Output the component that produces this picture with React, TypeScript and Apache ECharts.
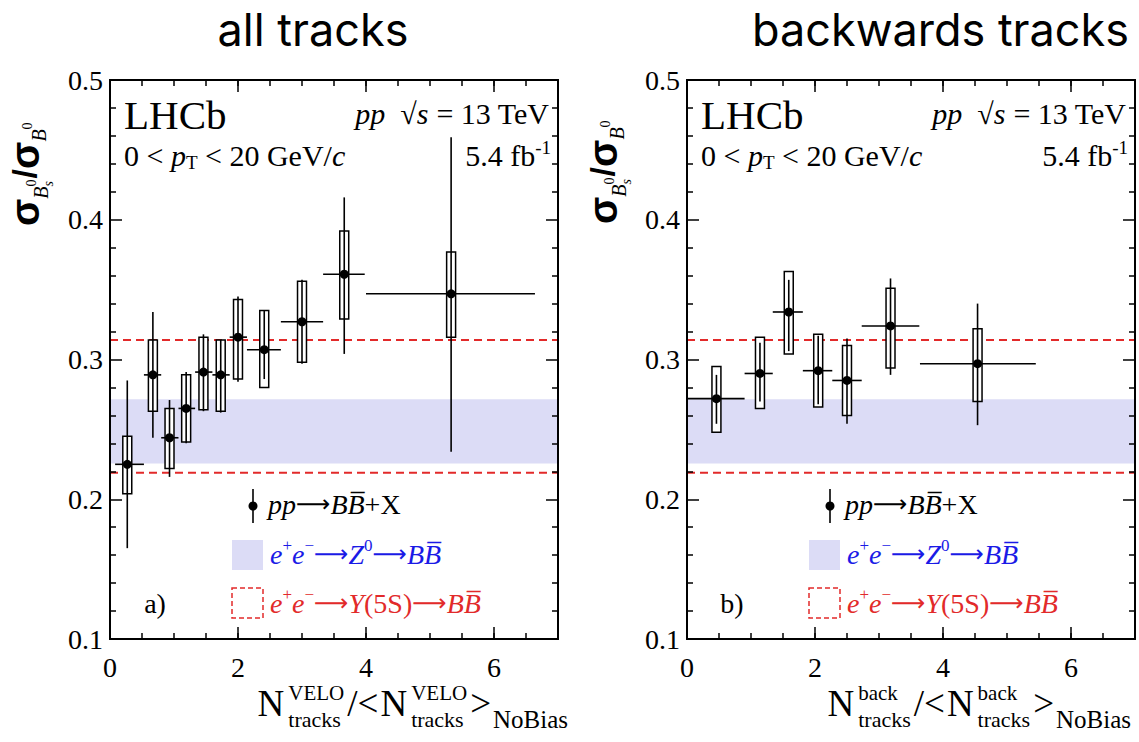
import React, { useEffect, useRef } from "react";
import * as echarts from "echarts";

const SERIF = "'Liberation Serif', 'Times New Roman', serif";
const SANS = "'Liberation Sans', Arial, sans-serif";
const TITLE_FONT = "Inter, 'Noto Sans', sans-serif";

// ---------- data ----------
const panelTitles = ["all tracks", "backwards tracks"];
const panelTags = ["a)", "b)"];

const leftX = [0.27, 0.67, 0.93, 1.19, 1.46, 1.73, 2.0, 2.41, 3.0, 3.66, 5.33];
const leftXLo = [0.08, 0.53, 0.8, 1.07, 1.33, 1.6, 1.87, 2.14, 2.67, 3.33, 4.0];
const leftXHi = [0.53, 0.8, 1.07, 1.33, 1.6, 1.87, 2.14, 2.67, 3.33, 3.98, 6.64];
const leftY = [0.225, 0.289, 0.244, 0.265, 0.291, 0.289, 0.316, 0.307, 0.327, 0.361, 0.347];
const leftStatLo = [0.165, 0.244, 0.216, 0.24, 0.263, 0.262, 0.284, 0.286, 0.297, 0.304, 0.234];
const leftStatHi = [0.285, 0.334, 0.271, 0.291, 0.318, 0.314, 0.345, 0.335, 0.357, 0.416, 0.459];
const leftSysLo = [0.204, 0.263, 0.222, 0.241, 0.264, 0.263, 0.286, 0.28, 0.298, 0.329, 0.316];
const leftSysHi = [0.245, 0.314, 0.265, 0.289, 0.316, 0.314, 0.343, 0.335, 0.356, 0.392, 0.377];

const rightX = [0.46, 1.14, 1.59, 2.05, 2.5, 3.18, 4.54];
const rightXLo = [0.0, 0.9, 1.34, 1.81, 2.27, 2.73, 3.64];
const rightXHi = [0.9, 1.34, 1.81, 2.27, 2.73, 3.63, 5.45];
const rightY = [0.272, 0.29, 0.334, 0.292, 0.285, 0.324, 0.297];
const rightStatLo = [0.254, 0.27, 0.306, 0.268, 0.254, 0.289, 0.253];
const rightStatHi = [0.289, 0.312, 0.357, 0.317, 0.315, 0.358, 0.34];
const rightSysLo = [0.248, 0.265, 0.304, 0.266, 0.26, 0.294, 0.27];
const rightSysHi = [0.295, 0.316, 0.363, 0.318, 0.31, 0.351, 0.322];

const z0Band = [0.2255, 0.2715];
const y5sLines = [0.219, 0.314];

const X_MIN = 0;
const X_MAX = 7;
const Y_MIN = 0.1;
const Y_MAX = 0.5;
const BOX_HALF = 0.07;

const BAND_COLOR = "#dcdcf6";
const RED = "#e22a2a";
const BLUE = "#1a1ae6";

type Item = { t: string; size: number; dy?: number; italic?: boolean; bold?: boolean; family?: string; color?: string };
type Slot = { items: Item[]; gap?: number };

export default function App() {
  const ref = useRef<HTMLDivElement>(null);

  useEffect(() => {
    document.body.style.margin = "0";
    const chart = echarts.init(ref.current!, null, { renderer: "svg" });

    const canvas = document.createElement("canvas");
    const ctx = canvas.getContext("2d")!;
    const fontStr = (it: Item) =>
      `${it.italic ? "italic " : ""}${it.bold ? "bold " : ""}${it.size}px ${it.family || SERIF}`;
    const measure = (it: Item) => {
      ctx.font = fontStr(it);
      return ctx.measureText(it.t).width;
    };
    const slotsWidth = (slots: Slot[]) =>
      slots.reduce((acc, s) => acc + Math.max(...s.items.map(measure)) + (s.gap || 0), 0);
    const layout = (slots: Slot[], x0: number, y0: number) => {
      const out: any[] = [];
      let x = x0;
      for (const s of slots) {
        let w = 0;
        for (const it of s.items) {
          w = Math.max(w, measure(it));
          out.push({
            type: "text",
            x,
            y: y0 + (it.dy || 0),
            silent: true,
            style: {
              text: it.t,
              fontSize: it.size,
              fontFamily: it.family || SERIF,
              fontStyle: it.italic ? "italic" : "normal",
              fontWeight: it.bold ? "bold" : "normal",
              fill: it.color || "#000",
              align: "left",
              verticalAlign: "middle",
            },
          });
        }
        x += w + (s.gap || 0);
      }
      return out;
    };

    const grids = [
      { left: 110, top: 80, width: 448, height: 559 },
      { left: 687, top: 80, width: 448, height: 559 },
    ];

    const mkX = (gi: number, position: string, interval: number, len: number, labels: boolean) => ({
      gridIndex: gi,
      type: "value",
      min: X_MIN,
      max: X_MAX,
      interval,
      position,
      z: 10,
      axisLine: { show: true, onZero: false, lineStyle: { color: "#000", width: 2 } },
      axisTick: { show: true, inside: true, length: len, lineStyle: { color: "#000", width: 1.5 } },
      axisLabel: labels
        ? { show: true, showMaxLabel: false, fontFamily: SERIF, fontSize: 28, color: "#000", margin: 14 }
        : { show: false },
      splitLine: { show: false },
    });
    const mkY = (gi: number, position: string, labels: boolean) => ({
      gridIndex: gi,
      type: "value",
      min: Y_MIN,
      max: Y_MAX,
      interval: 0.1,
      position,
      z: 10,
      axisLine: { show: true, onZero: false, lineStyle: { color: "#000", width: 2 } },
      axisTick: { show: true, inside: true, length: 12, lineStyle: { color: "#000", width: 1.5 } },
      minorTick: { show: true, splitNumber: 5, length: 6, lineStyle: { color: "#000", width: 1.5 } },
      axisLabel: labels
        ? {
            show: true,
            fontFamily: SERIF,
            fontSize: 28,
            color: "#000",
            margin: 7,
            formatter: (v: number) => v.toFixed(1),
          }
        : { show: false },
      splitLine: { show: false },
      minorSplitLine: { show: false },
    });

    const xAxes: any[] = [];
    const yAxes: any[] = [];
    for (let gi = 0; gi < 2; gi++) {
      xAxes.push(mkX(gi, "bottom", 2, 12, true));
      xAxes.push(mkX(gi, "bottom", 0.5, 6, false));
      xAxes.push(mkX(gi, "top", 2, 12, false));
      xAxes.push(mkX(gi, "top", 0.5, 6, false));
      yAxes.push(mkY(gi, "left", true));
      yAxes.push(mkY(gi, "right", false));
    }

    const panels = [
      { x: leftX, xlo: leftXLo, xhi: leftXHi, y: leftY, slo: leftStatLo, shi: leftStatHi, blo: leftSysLo, bhi: leftSysHi },
      { x: rightX, xlo: rightXLo, xhi: rightXHi, y: rightY, slo: rightStatLo, shi: rightStatHi, blo: rightSysLo, bhi: rightSysHi },
    ];

    const series: any[] = [];
    panels.forEach((p, gi) => {
      const xi = gi * 4;
      const yi = gi * 2;
      series.push({
        type: "custom",
        name: "Z0 band",
        xAxisIndex: xi,
        yAxisIndex: yi,
        z: 1,
        silent: true,
        data: [[X_MIN, z0Band[0], X_MAX, z0Band[1]]],
        renderItem: (_params: any, api: any) => {
          const a = api.coord([api.value(0), api.value(3)]);
          const b = api.coord([api.value(2), api.value(1)]);
          return {
            type: "rect",
            shape: { x: a[0], y: a[1], width: b[0] - a[0], height: b[1] - a[1] },
            style: { fill: BAND_COLOR },
          };
        },
      });
      series.push({
        type: "custom",
        name: "Y5S lines",
        xAxisIndex: xi,
        yAxisIndex: yi,
        z: 2,
        silent: true,
        data: y5sLines.map((v) => [X_MIN, v, X_MAX]),
        renderItem: (_params: any, api: any) => {
          const a = api.coord([api.value(0), api.value(1)]);
          const b = api.coord([api.value(2), api.value(1)]);
          return {
            type: "line",
            shape: { x1: a[0], y1: a[1], x2: b[0], y2: b[1] },
            style: { stroke: RED, lineWidth: 2, lineDash: [8, 5] },
          };
        },
      });
      series.push({
        type: "custom",
        name: "syst",
        xAxisIndex: xi,
        yAxisIndex: yi,
        z: 3,
        silent: true,
        data: p.x.map((x, i) => [x, p.blo[i], p.bhi[i]]),
        renderItem: (_params: any, api: any) => {
          const x = api.value(0);
          const a = api.coord([x - BOX_HALF, api.value(2)]);
          const b = api.coord([x + BOX_HALF, api.value(1)]);
          return {
            type: "rect",
            shape: { x: a[0], y: a[1], width: b[0] - a[0], height: b[1] - a[1] },
            style: { fill: "#fff", stroke: "#000", lineWidth: 1.5 },
          };
        },
      });
      series.push({
        type: "custom",
        name: "data",
        xAxisIndex: xi,
        yAxisIndex: yi,
        z: 4,
        silent: true,
        data: p.x.map((x, i) => [x, p.y[i], p.xlo[i], p.xhi[i], p.slo[i], p.shi[i]]),
        renderItem: (_params: any, api: any) => {
          const c = api.coord([api.value(0), api.value(1)]);
          const l = api.coord([api.value(2), api.value(1)]);
          const r = api.coord([api.value(3), api.value(1)]);
          const lo = api.coord([api.value(0), api.value(4)]);
          const hi = api.coord([api.value(0), api.value(5)]);
          return {
            type: "group",
            children: [
              { type: "line", shape: { x1: l[0], y1: l[1], x2: r[0], y2: r[1] }, style: { stroke: "#000", lineWidth: 1.6 } },
              { type: "line", shape: { x1: lo[0], y1: lo[1], x2: hi[0], y2: hi[1] }, style: { stroke: "#000", lineWidth: 1.6 } },
              { type: "circle", shape: { cx: c[0], cy: c[1], r: 4.5 }, style: { fill: "#000" } },
            ],
          };
        },
      });
    });

    // ---------- annotations ----------
    const graphics: any[] = [];
    const richBase = (size: number, color: string) => ({
      i: { fontStyle: "italic", fontSize: size, fontFamily: SERIF, fill: color, lineHeight: 34 },
      n: { fontSize: size, fontFamily: SERIF, fill: color, lineHeight: 34 },
      a: { fontSize: Math.round(size * 0.85), fontFamily: "'DejaVu Sans', sans-serif", fill: color, lineHeight: 34 },
      sup: { fontSize: Math.round(size * 0.62), fontFamily: SERIF, fill: color, verticalAlign: "top", lineHeight: 17 },
      sub: { fontSize: Math.round(size * 0.62), fontFamily: SERIF, fill: color, verticalAlign: "bottom", lineHeight: 17 },
    });
    const rtext = (x: number, y: number, text: string, size: number, color: string, align = "left") => ({
      type: "text",
      x,
      y,
      silent: true,
      style: {
        text,
        fontSize: size,
        fontFamily: SERIF,
        fill: color,
        align,
        verticalAlign: "middle",
        lineHeight: 34,
        rich: richBase(size, color),
      },
    });

    const ARROW = "{a|⟶}";
    const BBAR = "{i|BB\u0305}";

    const offsets = [0, 577];
    offsets.forEach((off, gi) => {
      // panel title
      graphics.push({
        type: "text",
        x: gi === 0 ? 313 : 1129,
        y: 29,
        silent: true,
        style: {
          text: panelTitles[gi],
          fontSize: 45,
          fontFamily: TITLE_FONT,
          fill: "#000",
          align: gi === 0 ? "center" : "right",
          verticalAlign: "middle",
        },
      });
      graphics.push(rtext(124 + off, 115, "LHCb", 41, "#000"));
      graphics.push(rtext(549 + off, 113, "{i|pp}  √{i|s} = 13 TeV", 30, "#000", "right"));
      graphics.push(rtext(124 + off, 155, "0 < {i|p}{sub|T} < 20 GeV/{i|c}", 30, "#000"));
      graphics.push(rtext(551 + off, 155, "5.4 fb{sup|-1}", 30, "#000", "right"));

      // legend
      graphics.push({
        type: "line",
        silent: true,
        shape: { x1: 253 + off, y1: 489, x2: 253 + off, y2: 523 },
        style: { stroke: "#000", lineWidth: 1.6 },
      });
      graphics.push({ type: "circle", silent: true, shape: { cx: 253 + off, cy: 506, r: 4.5 }, style: { fill: "#000" } });
      graphics.push(rtext(268 + off, 504, `{i|pp}${ARROW}${BBAR}+X`, 28, "#000"));
      graphics.push({
        type: "rect",
        silent: true,
        shape: { x: 232 + off, y: 540, width: 31, height: 30 },
        style: { fill: BAND_COLOR },
      });
      graphics.push(rtext(270 + off, 554, `{i|e}{sup|+}{i|e}{sup|−}${ARROW}{i|Z}{sup|0}${ARROW}${BBAR}`, 28, BLUE));
      graphics.push({
        type: "rect",
        silent: true,
        shape: { x: 232 + off, y: 588, width: 31, height: 30 },
        style: { fill: "none", stroke: RED, lineWidth: 1.5, lineDash: [5, 3] },
      });
      graphics.push(rtext(270 + off, 603, `{i|e}{sup|+}{i|e}{sup|−}${ARROW}{i|Y}(5S)${ARROW}${BBAR}`, 28, RED));
      graphics.push(rtext(155 + off, 603, panelTags[gi], 28, "#000", "center"));

      // y-axis title (rotated)
      const sig: Item = { t: "σ", size: 40, bold: true, family: SANS, dy: -12 };
      const ySlots: Slot[] = [
        { items: [sig], gap: 0 },
        { items: [{ t: "B", size: 20, italic: true, dy: 4 }] },
        { items: [{ t: "s", size: 14, italic: true, dy: 11 }, { t: "0", size: 14, dy: -6 }], gap: 1 },
        { items: [{ t: "/", size: 34, bold: true, family: SANS, dy: -13 }], gap: 0 },
        { items: [sig], gap: 0 },
        { items: [{ t: "B", size: 20, italic: true, dy: 2 }] },
        { items: [{ t: "0", size: 14, dy: -10 }] },
      ];
      graphics.push({
        type: "group",
        x: gi === 0 ? 37 : 615,
        y: gi === 0 ? 226 : 224,
        rotation: Math.PI / 2,
        children: layout(ySlots, 0, 0),
      });

      // x-axis title
      const sup = gi === 0 ? "VELO" : "back";
      const xSlots: Slot[] = [
        { items: [{ t: "N", size: 37 }], gap: 4 },
        { items: [{ t: sup, size: 21, dy: -10 }, { t: "tracks", size: 22, dy: 16 }], gap: 3 },
        { items: [{ t: "/<", size: 37 }], gap: 2 },
        { items: [{ t: "N", size: 37 }], gap: 4 },
        { items: [{ t: sup, size: 21, dy: -10 }, { t: "tracks", size: 22, dy: 16 }], gap: 3 },
        { items: [{ t: ">", size: 37 }], gap: 2 },
        { items: [{ t: "NoBias", size: 25, dy: 16 }] },
      ];
      const w = slotsWidth(xSlots);
      const endX = gi === 0 ? 568 : 1131;
      graphics.push(...layout(xSlots, endX - w, 703));
    });

    chart.setOption({
      animation: false,
      backgroundColor: "#fff",
      grid: grids,
      xAxis: xAxes,
      yAxis: yAxes,
      series,
      graphic: { elements: graphics },
    });

    return () => chart.dispose();
  }, []);

  return <div ref={ref} style={{ width: 1139, height: 742 }} />;
}
